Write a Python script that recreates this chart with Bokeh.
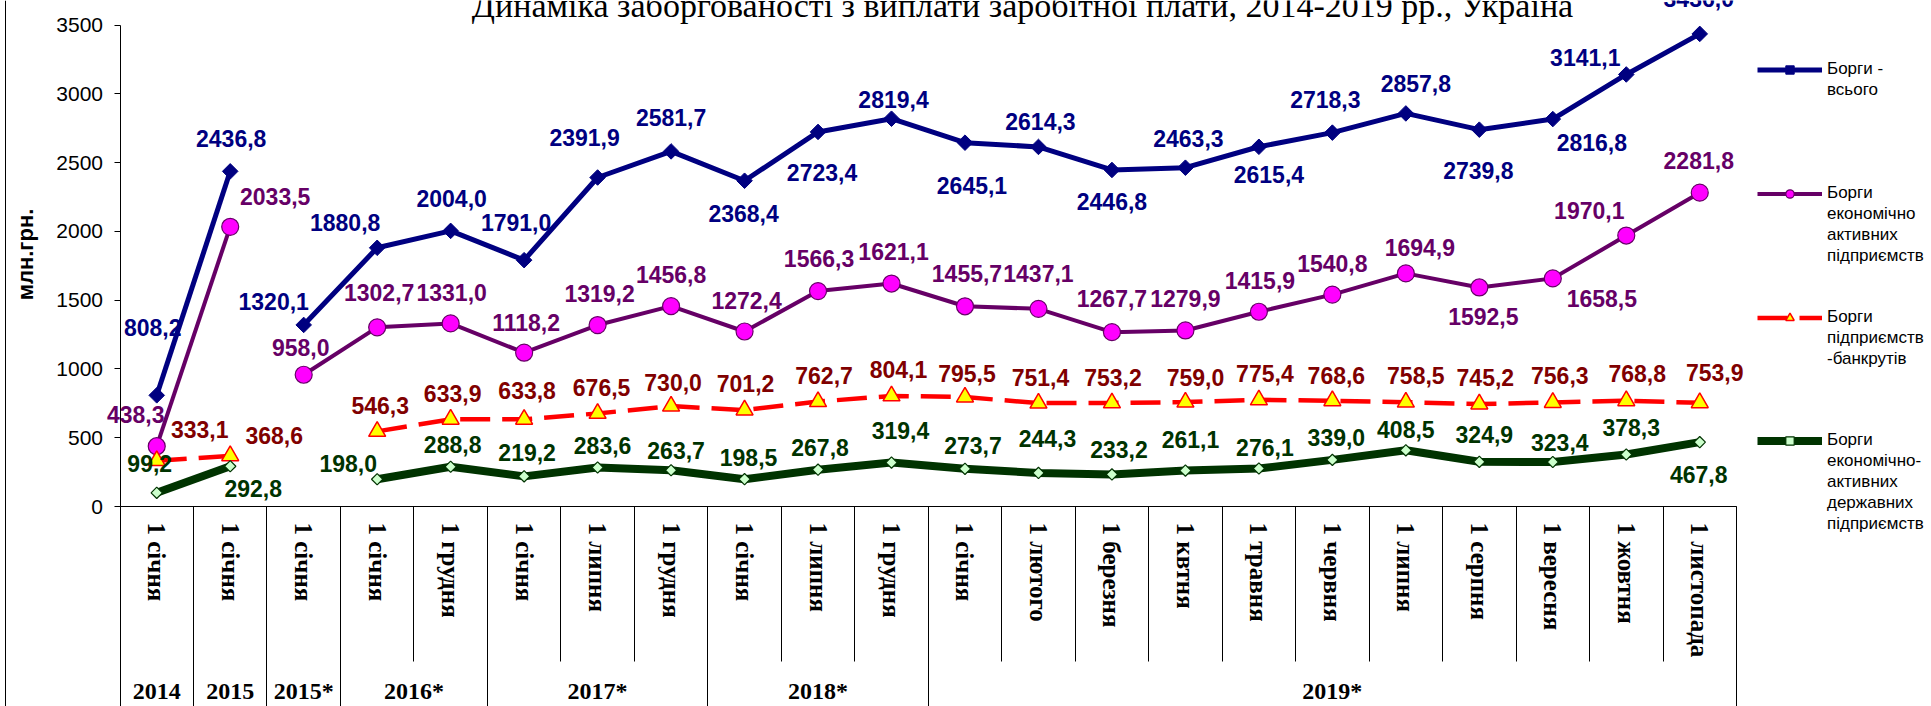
import math
import numpy as np
import pandas as pd
from bokeh.plotting import figure
from bokeh.models import (Range1d, LinearAxis, FixedTicker, ColumnDataSource,
                          Legend, LegendItem, Label, Span)
from bokeh.core.properties import value
from bokeh.embed import file_html
from bokeh.resources import INLINE

# ---------------- data ----------------
TITLE = "Динаміка заборгованості з виплати заробітної плати, 2014-2019 рр., Україна"
Y_LABEL = "млн.грн."
MONTHS = ["1 січня", "1 січня", "1 січня", "1 січня", "1 грудня", "1 січня", "1 липня",
          "1 грудня", "1 січня", "1 липня", "1 грудня", "1 січня", "1 лютого",
          "1 березня", "1 квтня", "1 травня", "1 червня", "1 липня", "1 серпня",
          "1 вересня", "1 жовтня", "1 листопада"]
YEARS = ["2014", "2015", "2015*", "2016*", "2016*", "2017*", "2017*", "2017*",
         "2018*", "2018*", "2018*", "2019*", "2019*", "2019*", "2019*", "2019*",
         "2019*", "2019*", "2019*", "2019*", "2019*", "2019*"]
YTICKS = [0, 500, 1000, 1500, 2000, 2500, 3000, 3500]

TOTAL = [808.2, 2436.8, 1320.1, 1880.8, 2004.0, 1791.0, 2391.9, 2581.7, 2368.4, 2723.4,
         2819.4, 2645.1, 2614.3, 2446.8, 2463.3, 2615.4, 2718.3, 2857.8, 2739.8, 2816.8,
         3141.1, 3436.0]
ACTIVE = [438.3, 2033.5, 958.0, 1302.7, 1331.0, 1118.2, 1319.2, 1456.8, 1272.4, 1566.3,
          1621.1, 1455.7, 1437.1, 1267.7, 1279.9, 1415.9, 1540.8, 1694.9, 1592.5, 1658.5,
          1970.1, 2281.8]
BANKRUPT = [333.1, 368.6, None, 546.3, 633.9, 633.8, 676.5, 730.0, 701.2, 762.7,
            804.1, 795.5, 751.4, 753.2, 759.0, 775.4, 768.6, 758.5, 745.2, 756.3,
            768.8, 753.9]
STATE = [99.2, 292.8, None, 198.0, 288.8, 219.2, 283.6, 263.7, 198.5, 267.8,
         319.4, 273.7, 244.3, 233.2, 261.1, 276.1, 339.0, 408.5, 324.9, 323.4,
         378.3, 467.8]

LEGEND_LINES = [["Борги -", "всього"],
                ["Борги", "економічно", "активних", "підприємств"],
                ["Борги", "підприємств", "-банкрутів"],
                ["Борги", "економічно-", "активних", "державних", "підприємств"]]

# label offsets (screen px) for data labels
DX1 = [-4, 1, -30, -32, 1, -8, -13, 0, -1, 4, 2, 7, 2, 0, 3, 10, -7, 10, -1, 39, -41, -1]
DY1 = [-68, -33, -23, -25, -32, -38, -40, -34, 33, 41, -19, 43, -25, 32, -29, 28, -33, -30, 41, 23, -17, -35]
DX2 = [-21, 45, -3, 2, 1, 2, 2, 0, 2, 1, 2, 2, 0, 0, 0, 1, 0, 14, 4, 49, -37, -1]
DY2 = [-32, -30, -27, -35, -31, -30, -32, -32, -31, -33, -32, -33, -35, -34, -32, -31, -31, -26, 29, 20, -25, -32]
DX3 = [43, 44, 0, 3, 2, 3, 4, 2, 1, 6, 7, 2, 2, 1, 10, 6, 4, 10, 6, 7, 11, 15]
DY3 = [-31, -20, 0, -26, -26, -29, -26, -24, -27, -26, -26, -24, -26, -25, -25, -26, -25, -27, -27, -27, -27, -30]
DX4 = [-7, 23, 0, -29, 2, 3, 5, 5, 4, 2, 9, 8, 9, 7, 5, 6, 4, 0, 5, 7, 5, -1]
DY4 = [-29, 22, 0, -16, -22, -24, -22, -20, -22, -22, -32, -23, -34, -25, -31, -21, -22, -21, -27, -20, -27, 32]

# ---------------- layout constants ----------------
W, H = 1931, 706
X0_PX = 119.5            # canvas x of the y axis
ZERO_Y = 506             # canvas y of value 0
PX_PER_UNIT = (506 - 24.6) / 3500
PX_PER_CAT = 73.477
n = len(MONTHS)
X_START = -X0_PX / PX_PER_CAT
X_END = (W - X0_PX) / PX_PER_CAT
Y_TOP = ZERO_Y / PX_PER_UNIT
Y_BOT = -(H - ZERO_Y) / PX_PER_UNIT


def sx(px):   # canvas x -> data x
    return (px - X0_PX) / PX_PER_CAT


def sy(py):   # canvas y -> data y
    return (ZERO_Y - py) / PX_PER_UNIT


xc = np.arange(n) + 0.5
brk = next(i for i, yv in enumerate(YEARS) if "*" in yv)

p = figure(width=W, height=H, x_range=Range1d(X_START, X_END), y_range=Range1d(Y_BOT, Y_TOP),
           output_backend="svg", toolbar_location=None, title=None,
           x_axis_type=None, y_axis_type=None,
           min_border_left=0, min_border_right=0, min_border_top=0, min_border_bottom=0)
p.outline_line_color = None
p.background_fill_color = "white"
p.border_fill_color = "white"

# chart-area border on the left
p.add_layout(Span(location=sx(5), dimension="height", line_color="black", line_width=1))

# y axis (crossing at x = 0)
yax = LinearAxis(fixed_location=0, ticker=FixedTicker(ticks=YTICKS, minor_ticks=[]),
                 bounds=(0, YTICKS[-1]))
yax.axis_line_color = "black"
yax.major_tick_out = 6
yax.major_tick_in = 0
yax.minor_tick_out = 0
yax.minor_tick_in = 0
yax.major_tick_line_color = "black"
yax.major_label_text_font = "Liberation Sans"
yax.major_label_text_font_size = "21px"
yax.major_label_text_color = "black"
yax.major_label_standoff = 11
p.add_layout(yax, "left")

p.add_layout(Label(x=sx(25), y=sy(254), text=Y_LABEL, angle=math.pi / 2,
                   text_align="center", text_baseline="middle",
                   text_font="Liberation Sans", text_font_style="bold",
                   text_font_size="22px", text_color="black"))


def x_axis(**kw):
    ax = LinearAxis(fixed_location=0, bounds=(0, n), **kw)
    ax.axis_line_color = None
    ax.major_tick_out = 0
    ax.major_tick_in = 0
    ax.minor_tick_out = 0
    ax.minor_tick_in = 0
    ax.minor_tick_line_color = "black"
    ax.major_label_text_color = "black"
    return ax


# month labels (axis line at 0)
xa = x_axis(ticker=FixedTicker(ticks=[float(v) for v in xc], minor_ticks=[]),
            major_label_overrides={float(x): m for x, m in zip(xc, MONTHS)})
xa.axis_line_color = "black"
xa.major_label_orientation = "vertical"
xa.major_label_text_font = "Liberation Serif"
xa.major_label_text_font_style = "bold"
xa.major_label_text_font_size = "25px"
xa.major_label_standoff = 16
p.add_layout(xa, "below")

# month separators
xs = x_axis(ticker=FixedTicker(ticks=[], minor_ticks=list(range(n + 1))))
xs.minor_tick_out = 155
p.add_layout(xs, "below")

# year group labels and separators
gb = [0] + [i for i in range(1, n) if YEARS[i] != YEARS[i - 1]] + [n]
gcent = [(a + b) / 2 for a, b in zip(gb[:-1], gb[1:])]
glab = [YEARS[a] for a in gb[:-1]]
xb = x_axis(ticker=FixedTicker(ticks=gcent, minor_ticks=[]),
            major_label_overrides={float(c): t for c, t in zip(gcent, glab)})
xb.major_label_text_font = "Liberation Serif"
xb.major_label_text_font_style = "bold"
xb.major_label_text_font_size = "24px"
xb.major_label_standoff = 171
p.add_layout(xb, "below")

xg = x_axis(ticker=FixedTicker(ticks=[], minor_ticks=gb))
xg.minor_tick_out = 210
p.add_layout(xg, "below")

# ---------------- series ----------------
def arr(v):
    return np.array([np.nan if a is None else a for a in v], dtype=float)

specs = [
    dict(vals=arr(TOTAL), line=dict(line_color="#000080", line_width=5),
         mk=dict(marker="square", angle=math.pi / 4, size=11, fill_color="#000080",
                 line_color="#000080"),
         lab="#000080", dx=DX1, dy=DY1),
    dict(vals=arr(ACTIVE), line=dict(line_color="#660066", line_width=4),
         mk=dict(marker="circle", size=17, fill_color="#FF00FF", line_color="#660066",
                 line_width=1.2),
         lab="#660066", dx=DX2, dy=DY2),
    dict(vals=arr(BANKRUPT), line=dict(line_color="#FF0000", line_width=4.5,
                                       line_dash="30 12"),
         mk=dict(marker="triangle", size=17, fill_color="#FFFF00", line_color="#FF0000",
                 line_width=1.5),
         lab="#800000", dx=DX3, dy=DY3),
    dict(vals=arr(STATE), line=dict(line_color="#003300", line_width=8),
         mk=dict(marker="square", angle=math.pi / 4, size=8, fill_color="#CCFFCC",
                 line_color="#003300", line_width=1.2),
         lab="#003300", dx=DX4, dy=DY4),
]

legend_renderers = []
for s in specs:
    v = s["vals"]
    p.line(xc[:brk], v[:brk], **s["line"])
    l2 = p.line(xc[brk:], v[brk:], **s["line"])
    m = p.scatter(xc, v, **s["mk"])
    legend_renderers.append([l2, m])

for s in specs:
    df = pd.DataFrame({"x": xc, "y": s["vals"], "dx": s["dx"], "dy": s["dy"]}).dropna()
    df["t"] = [f"{a:.1f}".replace(".", ",") for a in df["y"]]
    p.text(x="x", y="y", text="t", x_offset="dx", y_offset="dy",
           source=ColumnDataSource(df), text_align="center", text_baseline="middle",
           text_font=value("Liberation Sans"), text_font_style="bold",
           text_font_size="23px", text_color=s["lab"])

# ---------------- legends ----------------
blank = p.line(x=[], y=[], line_alpha=0)
LEG_Y = [69, 193, 317, 440]   # canvas y of first row centre
ROW = 21
for lines, rends, ly in zip(LEGEND_LINES, legend_renderers, LEG_Y):
    items = [LegendItem(label=lines[0], renderers=rends)]
    items += [LegendItem(label=t, renderers=[blank]) for t in lines[1:]]
    top_c = ly - ROW / 2
    bottom_c = top_c + ROW * len(lines)
    leg = Legend(items=items, location=(1757, H - bottom_c),
                 orientation="vertical", padding=0, margin=0, spacing=0,
                 glyph_width=65, glyph_height=ROW, label_height=ROW, label_standoff=5,
                 label_text_font="Liberation Sans", label_text_font_size="17px",
                 label_text_color="black", border_line_alpha=0,
                 background_fill_alpha=0)
    p.add_layout(leg, "center")

# ---------------- title ----------------
p.add_layout(Label(x=sx(1022), y=sy(5),
                   text=TITLE, text_font="Liberation Serif", text_font_size="34px",
                   text_align="center", text_baseline="alphabetic", text_color="black"))

open("out.html", "w").write(file_html(p, INLINE))
